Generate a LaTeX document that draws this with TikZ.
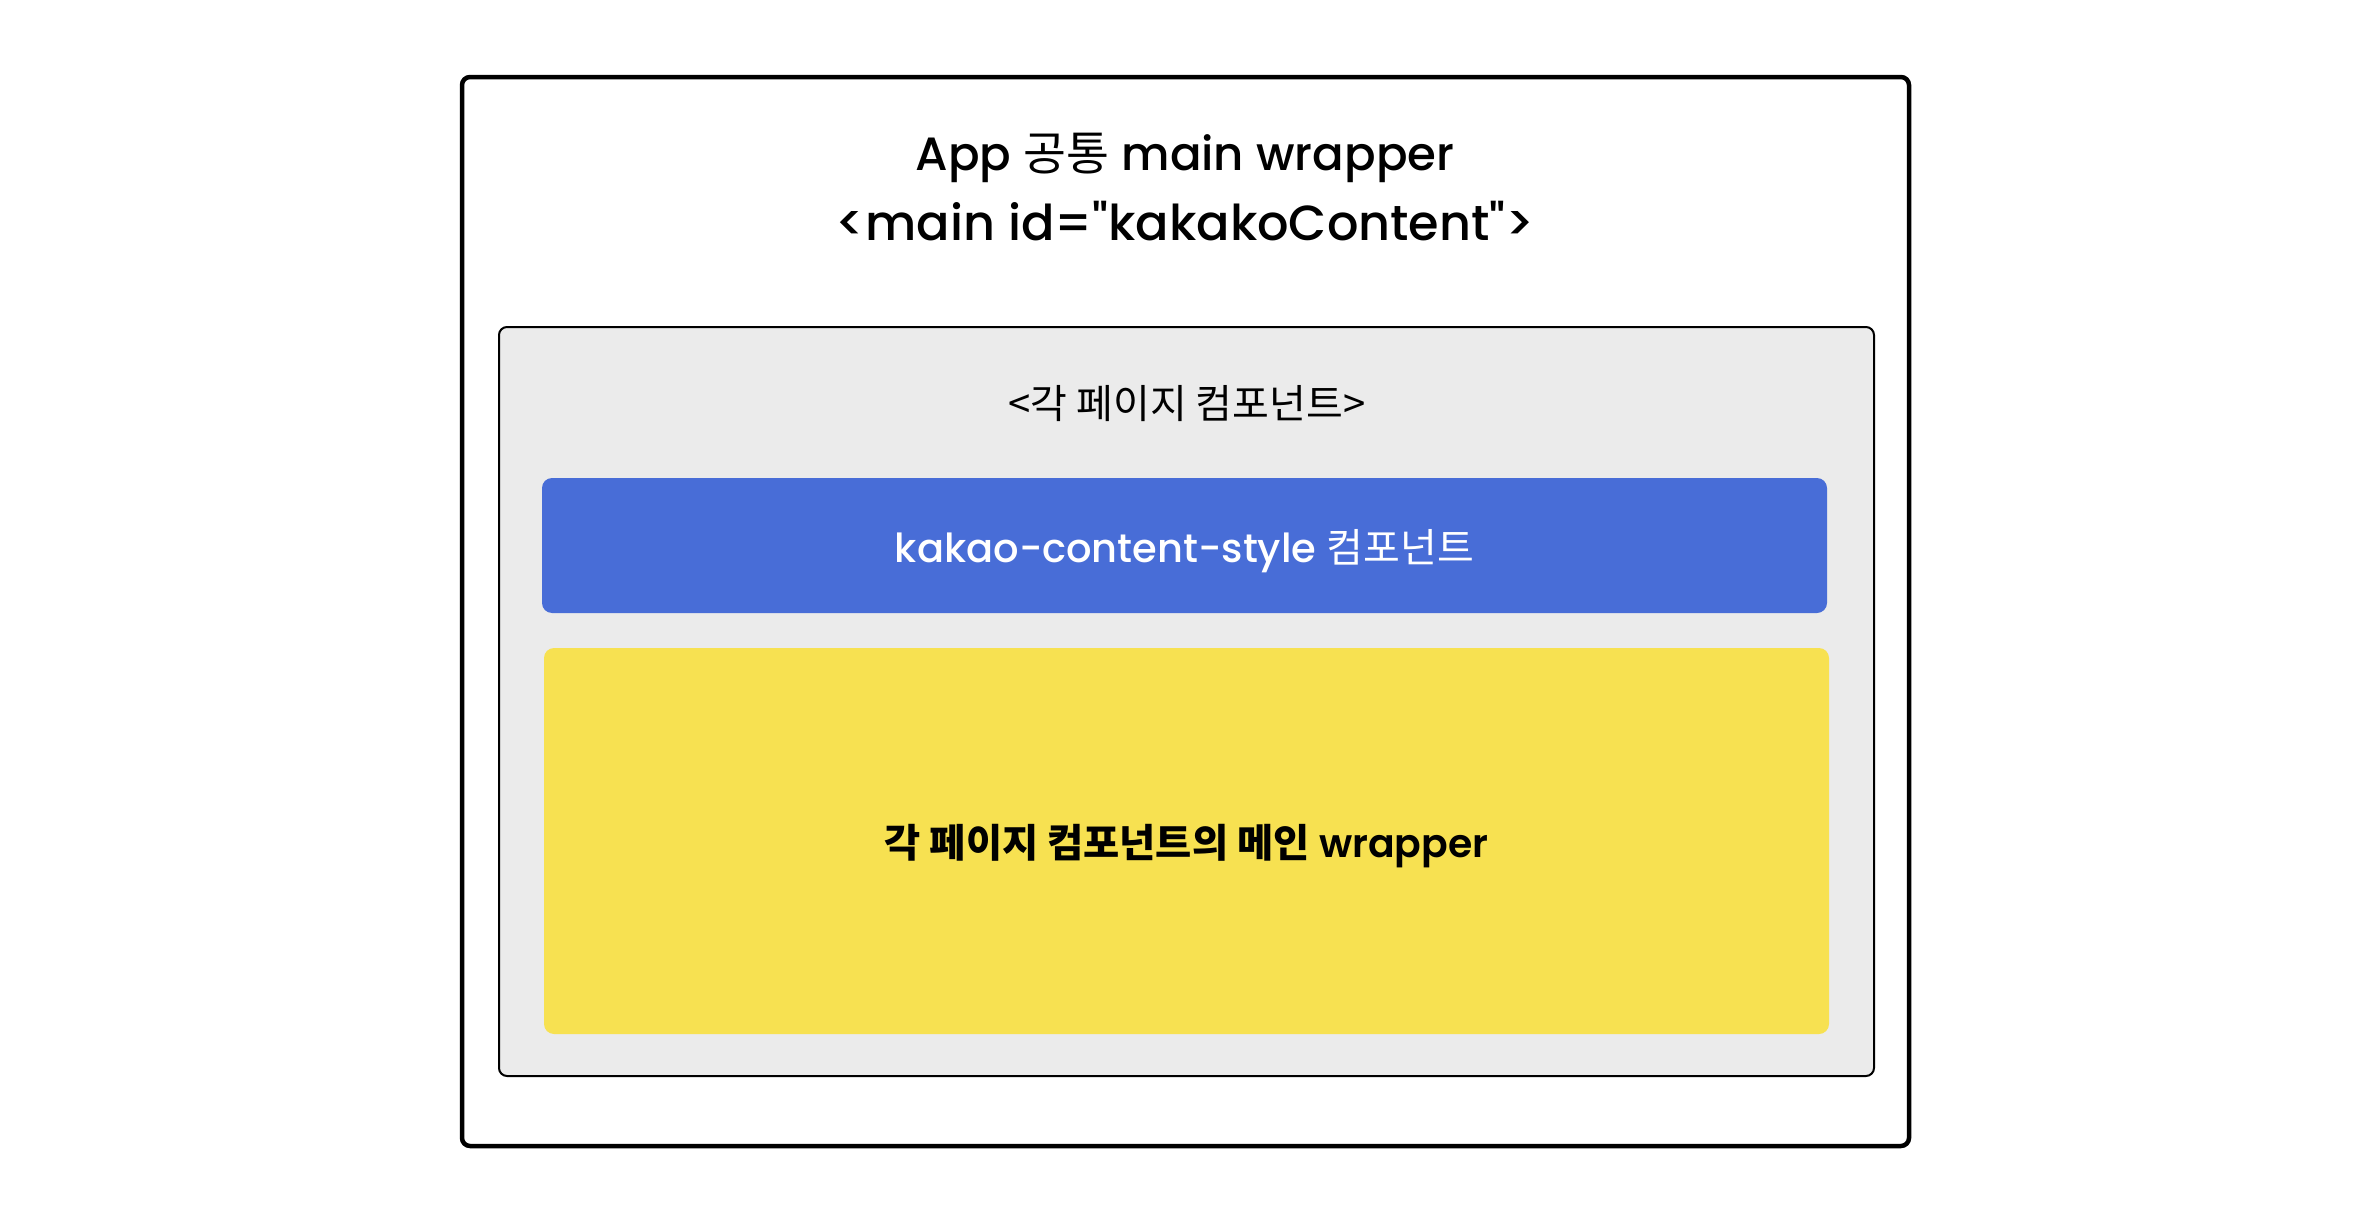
\documentclass[tikz,border=0pt]{standalone}
\usepackage{fontspec}
\setmainfont{Poppins}[BoldFont = Poppins Medium]
\newfontfamily\semi{Poppins}[BoldFont = Poppins SemiBold]
\newfontfamily\kr{Noto Sans CJK KR}
\usepackage{tikz}
\definecolor{pagegray}{HTML}{EBEBEB}
\definecolor{styleblue}{HTML}{486DD7}
\definecolor{wrapyellow}{HTML}{F7E151}
\tikzset{box/.style = {rectangle, rounded corners = 2.4pt, inner sep = 0pt}}

\begin{document}
\begin{tikzpicture}[x = 0.3pt, y = -0.3pt]

	\useasboundingbox (0, 0) rectangle (2374, 1226);

	\node[box, draw, line width = 1.35pt, minimum width = 434.1pt, minimum height = 320.7pt] (app) at (1185.5, 611.5) {};
	\node[box, draw, fill = pagegray, line width = 0.6pt, minimum width = 412.5pt, minimum height = 224.7pt] (page) at (1186.5, 701.5) {};
	\node[box, fill = styleblue, rounded corners = 3pt, minimum width = 385.5pt, minimum height = 40.5pt, text depth = 0pt, text = white, font = \bfseries\fontsize{12}{14}\selectfont] (style) at (1184.5, 545.5) {kakao-content-style {\kr\mdseries 컴포넌트}};
	\node[box, fill = wrapyellow, rounded corners = 3pt, minimum width = 385.5pt, minimum height = 115.8pt, text depth = 0pt, font = \semi\bfseries\fontsize{11.8}{14}\selectfont] (mainwrap) at (1186.5, 841) {{\kr\bfseries 각 페이지 컴포넌트의 메인} wrapper};

	\node[anchor = base, font = \bfseries\fontsize{14}{16}\selectfont] (title) at (1185, 170) {App {\kr\mdseries 공통} main wrapper};
	\node[anchor = base, font = \bfseries\fontsize{14.8}{16}\selectfont] (mainid) at (1185, 240) {<main id=\textquotedbl kakakoContent\textquotedbl>};

	\node[anchor = base, font = \kr\fontsize{12}{14}\selectfont] (pagelabel) at (1187, 418) {<각 페이지 컴포넌트>};
\end{tikzpicture}
\end{document}
